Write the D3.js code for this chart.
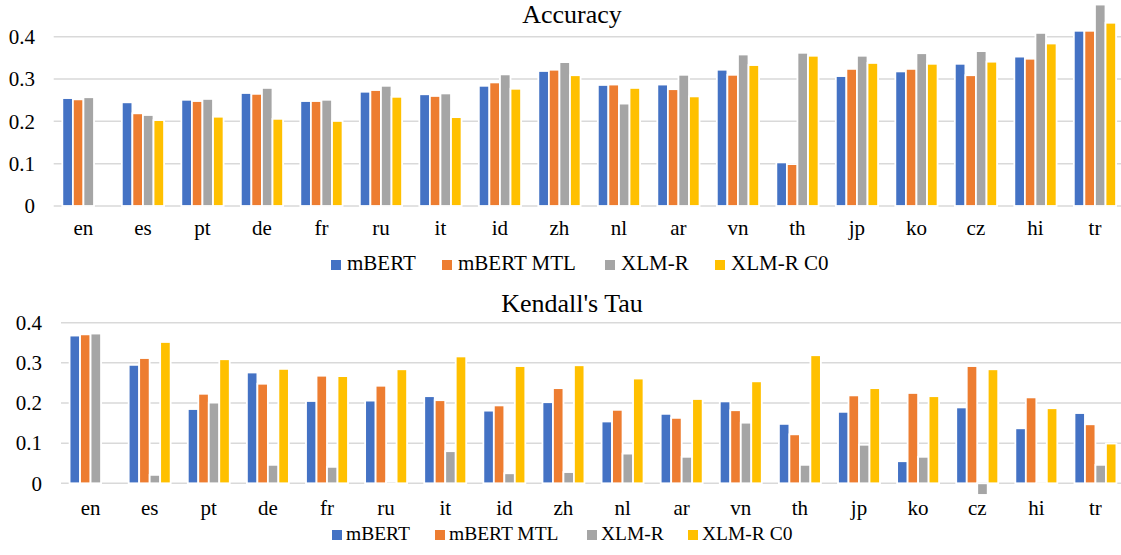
<!DOCTYPE html>
<html><head><meta charset="utf-8">
<script src="https://cdn.jsdelivr.net/npm/d3@7"></script>
<style>body{margin:0;background:#fff}svg{display:block}</style>
</head><body><svg id="c" width="1121" height="555"></svg>
<script>
const categories = ["en","es","pt","de","fr","ru","it","id","zh","nl","ar","vn","th","jp","ko","cz","hi","tr"];
const seriesNames = ["mBERT","mBERT MTL","XLM-R","XLM-R C0"];
const colors = ["#4472C4","#ED7D31","#A5A5A5","#FFC000"];
const yTicks = [0,0.1,0.2,0.3,0.4];

const accMBERT    = [0.255,0.245,0.251,0.267,0.248,0.270,0.264,0.284,0.319,0.286,0.287,0.322,0.103,0.307,0.318,0.336,0.353,0.414];
const accMBERTMTL = [0.252,0.219,0.248,0.265,0.248,0.274,0.260,0.292,0.322,0.287,0.276,0.310,0.099,0.324,0.324,0.309,0.348,0.414];
const accXLMR     = [0.257,0.215,0.253,0.279,0.251,0.284,0.266,0.311,0.340,0.242,0.310,0.358,0.362,0.355,0.361,0.366,0.409,0.476];
const accXLMRC0   = [null,0.203,0.211,0.206,0.201,0.258,0.210,0.277,0.309,0.279,0.259,0.333,0.355,0.338,0.336,0.341,0.384,0.433];

const tauMBERT    = [0.368,0.295,0.185,0.276,0.205,0.206,0.217,0.181,0.202,0.154,0.173,0.204,0.148,0.178,0.055,0.189,0.137,0.175];
const tauMBERTMTL = [0.371,0.312,0.223,0.248,0.268,0.243,0.207,0.194,0.237,0.183,0.163,0.182,0.122,0.219,0.225,0.292,0.214,0.147];
const tauXLMR     = [0.373,0.021,0.201,0.046,0.041,0.005,0.080,0.025,0.028,0.074,0.066,0.151,0.046,0.096,0.066,-0.029,-0.004,0.046];
const tauXLMRC0   = [null,0.352,0.309,0.285,0.267,0.284,0.316,0.292,0.294,0.261,0.210,0.254,0.319,0.237,0.217,0.284,0.187,0.099];

const FONT = '"Liberation Serif"';
const svg = d3.select("#c");

function drawChart(o){
  const series = o.series;
  const g = svg.append("g");
  const x = d3.scaleBand().domain(categories).range([o.x0, o.x1]).paddingInner(0.29).paddingOuter(0.145);
  const xs = d3.scaleBand().domain(d3.range(series.length)).range([0, x.bandwidth()]).padding(0);
  const y = d3.scaleLinear().domain([0,0.4]).range([o.yBase, o.yTop]);

  g.append("g").selectAll("line").data(yTicks).join("line")
    .attr("x1", o.x0).attr("x2", o.x1)
    .attr("y1", d=>y(d)).attr("y2", d=>y(d))
    .attr("stroke", "#D9D9D9").attr("stroke-width", 1.5);

  const ya = d3.axisLeft(y).tickValues(yTicks).tickFormat(d=> d===0 ? "0" : d3.format(".1f")(d)).tickSize(0).tickPadding(0);
  const yg = g.append("g").attr("transform", `translate(${o.yLabelX},0)`).call(ya);
  yg.select(".domain").remove();
  yg.selectAll("text").attr("fill", "#000").style("font-family", FONT).style("font-size", "21px");

  series.forEach((vals, si)=>{
    g.append("g").selectAll("rect").data(categories.map((c,i)=>({c, v: vals[i]})).filter(d=>d.v!==null)).join("rect")
      .attr("x", d=>x(d.c)+xs(si))
      .attr("width", xs.bandwidth())
      .attr("y", d=>Math.min(y(d.v), y(0)))
      .attr("height", d=>Math.abs(y(d.v)-y(0)))
      .attr("fill", colors[si])
      .attr("stroke", "#fff").attr("stroke-width", 1.8);
  });

  const xa = d3.axisBottom(x).tickSize(0).tickPadding(0);
  const xg = g.append("g").attr("transform", `translate(0,${o.xLabelY})`).call(xa);
  xg.select(".domain").remove();
  xg.selectAll("text").attr("fill", "#000").attr("dy", "0").style("font-family", FONT).style("font-size", "21px");

  g.append("text").attr("x", o.titleX).attr("y", o.titleY).attr("text-anchor", "middle")
    .style("font-family", FONT).style("font-size", "26px").attr("fill", "#000").text(o.title);

  const lg = g.append("g");
  seriesNames.forEach((n,i)=>{
    lg.append("rect").attr("x", o.legendX[i]).attr("y", o.legendY-10).attr("width", 10).attr("height", 10).attr("fill", colors[i]);
    lg.append("text").attr("x", o.legendX[i]+o.legendGap).attr("y", o.legendY)
      .style("font-family", FONT).style("font-size", o.legendFont+"px").attr("fill", "#000").text(n);
  });
}

drawChart({
  series: [accMBERT, accMBERTMTL, accXLMR, accXLMRC0],
  x0: 53.7, x1: 1124.7, yBase: 206, yTop: 36.7,
  yLabelX: 35, xLabelY: 235, title: "Accuracy", titleX: 572, titleY: 23,
  legendX: [331, 442, 605, 715], legendY: 270, legendFont: 21, legendGap: 16
});
drawChart({
  series: [tauMBERT, tauMBERTMTL, tauXLMR, tauXLMRC0],
  x0: 61, x1: 1125, yBase: 483.3, yTop: 322.7,
  yLabelX: 42, xLabelY: 515, title: "Kendall's Tau", titleX: 572, titleY: 312,
  legendX: [332, 435, 587, 688], legendY: 540, legendFont: 19.5, legendGap: 14
});
</script></body></html>
